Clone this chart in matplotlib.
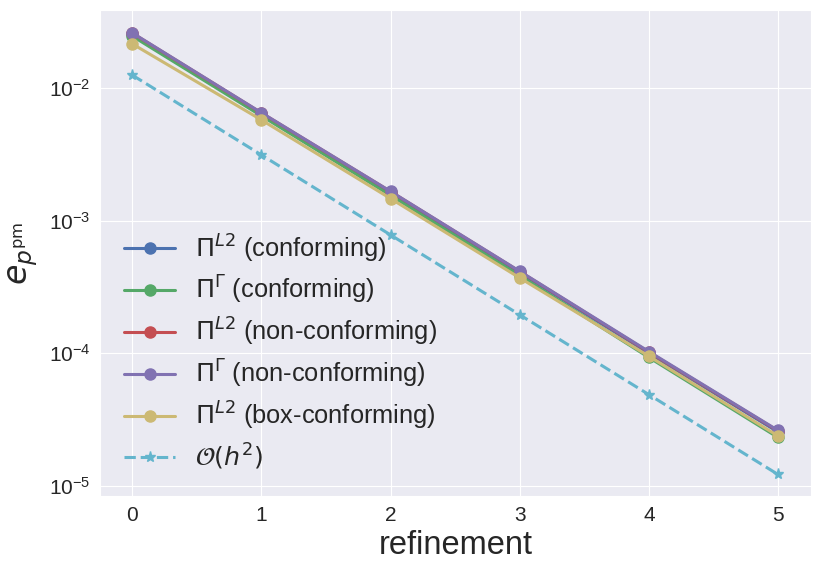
import numpy as np
import matplotlib
matplotlib.use("Agg")
import matplotlib.pyplot as plt
import seaborn as sns

sns.set_style("darkgrid")
plt.rcParams['font.family'] = ['Liberation Sans', 'DejaVu Sans']
plt.rcParams['mathtext.fontset'] = 'dejavusans'

# refinement levels
refinement = [0, 1, 2, 3, 4, 5]

# errors
l2_conf = [0.0255, 0.00640, 0.00162, 4.05e-4, 1.00e-4, 2.55e-5]
gamma_conf = [0.0246, 0.00616, 0.00155, 3.85e-4, 9.3e-5, 2.32e-5]
l2_nonconf = [0.0259, 0.00648, 0.001655, 4.13e-4, 1.02e-4, 2.6e-5]
gamma_nonconf = [0.0260, 0.00650, 0.00166, 4.15e-4, 1.03e-4, 2.62e-5]
l2_box = [0.0215, 0.00574, 0.001466, 3.70e-4, 9.5e-5, 2.38e-5]
order_h2 = [0.0125, 0.003125, 0.00078, 1.95e-4, 4.88e-5, 1.22e-5]

labels = [r"$\Pi^{L2}$ (conforming)",
          r"$\Pi^{\Gamma}$ (conforming)",
          r"$\Pi^{L2}$ (non-conforming)",
          r"$\Pi^{\Gamma}$ (non-conforming)",
          r"$\Pi^{L2}$ (box-conforming)",
          r"$\mathcal{O}(h^2)$"]

# old seaborn "deep" palette
colors = ["#4C72B0", "#55A868", "#C44E52", "#8172B2", "#CCB974", "#64B5CD"]

fig = plt.figure(figsize=(8.22, 5.74), dpi=100)
ax = fig.add_axes([100/822, 1 - 496/574, 711/822, 486/574])

series = [l2_conf, gamma_conf, l2_nonconf, gamma_nonconf, l2_box]
for i, s in enumerate(series):
    ax.plot(refinement, s, "-o", color=colors[i], lw=2.2, ms=8, label=labels[i])
ax.plot(refinement, order_h2, "--*", color=colors[5], lw=2.2, ms=8, label=labels[5])

ax.set_yscale("log")
ax.set_xlim(-0.25, 5.255)
ax.set_ylim(8.4e-6, 0.0387)
ax.minorticks_off()
ax.tick_params(labelsize=15, colors="#262626")
ax.set_xlabel("refinement", fontsize=23.5, color="#262626")
ax.set_ylabel(r"$e_{p^{\mathrm{pm}}}$", fontsize=24, color="#262626", labelpad=6)
ax.legend(loc="lower left", fontsize=18.3, frameon=False, handlelength=2.0,
          labelspacing=0.38, borderaxespad=0.55, handletextpad=0.8)

plt.savefig("out.png", dpi=100)
